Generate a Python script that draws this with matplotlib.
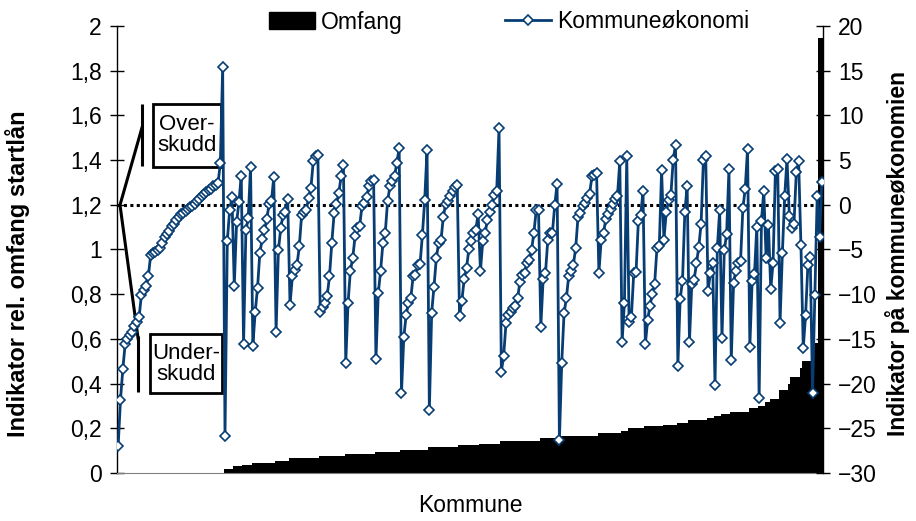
import numpy as np
import matplotlib
matplotlib.use("Agg")
import matplotlib.pyplot as plt
from matplotlib.patches import Patch, Rectangle
from matplotlib.lines import Line2D
from matplotlib.ticker import MultipleLocator, FuncFormatter

plt.rcParams['font.family'] = ['Liberation Sans', 'DejaVu Sans']

# Kommuneøkonomi per kommune, sorted by omfang group and then ascending within each group
kommuneokonomi = [
    -27.0, -21.8, -18.4, -15.6, -15.0, -14.6, -14.2, -13.6, -13.1, -12.6, -10.1, -9.5, -9.1, -8.0,
    -5.6, -5.35, -5.3, -5.1, -4.8, -4.3, -3.6, -3.3, -2.9, -2.35, -2.1, -1.7, -1.35, -1.05, -0.88,
    -0.68, -0.48, -0.26, -0.1, 0.05, 0.45, 0.7, 0.95, 1.2, 1.4, 1.6, 1.8, 2.05, 2.2, 2.4, 4.67, 15.42,
    -25.87, -4.03, -0.63, 0.86,
    -9.03, -1.94, 0.30, 3.25,
    -15.57, -2.87, -1.49, 4.22,
    -15.75, -12.02, -9.33, -5.41, -3.84, -2.87, -1.60, 0.11, 0.37, 3.10,
    -14.18, -5.11, -2.61, -1.12, -0.75, 0.64,
    -11.20, -8.02, -7.28, -6.72, -4.66, -1.12, -0.75, -0.56, 0.75, 1.87, 4.85, 5.41, 5.60,
    -11.94, -11.38, -11.01, -10.15, -8.02, -4.22, -0.93, 0.11, 1.31, 3.17, 4.48,
    -17.66, -10.94, -7.35, -5.97, -3.54, -2.61, -2.35, -0.11, 0.19, 0.86, 2.05, 2.61, 2.73,
    -17.28, -9.89, -7.39, -4.29, -3.17, 0.37, 2.05, 2.61, 3.25, 4.67, 6.35,
    -21.01, -14.82, -12.32, -11.01, -10.45, -8.02, -7.84, -6.72, -6.61, -3.36, 0.56, 6.16,
    -22.96, -12.06, -9.14, -5.97, -4.22, -3.99, -1.38, 0.11, 0.37, 0.93, 1.49, 1.98, 2.24,
    -12.39, -10.71, -8.32, -7.09, -4.96, -4.10, -3.10, -2.80, -1.01,
    -7.35, -4.10, -3.17, -1.68, -0.75, 0.0, 1.12, 1.57, 8.59,
    -18.66, -16.87, -13.25, -12.32, -11.94, -11.57, -11.31, -10.45, -8.58, -7.84, -7.65, -6.53,
    -6.16, -5.04, -3.17, -0.63, -0.56,
    -13.62, -8.32, -7.65, -3.92, -3.17, -3.10, 0.0, 2.35,
    -26.32, -17.66, -12.13, -10.45, -7.95, -7.35, -6.72, -4.85, -1.38, -0.93, -0.19, 0.19, 0.75,
    1.23, 3.17, 3.36, 3.55,
    -7.58, -3.92, -3.10, -1.60, -1.0, -0.5, 0.11, 0.6, 1.01, 4.85,
    -15.30, -10.94, 5.41,
    -13.06, -12.50, -7.65, -7.54, -1.79, -1.12, 1.49,
    -15.60, -12.88, -11.27, -9.97, -8.85, -4.85, -4.66, 3.85,
    -3.92, -0.86, 0.49, 1.12, 5.04, 6.72,
    -18.03, -10.56, -8.47, -0.86, 2.13,
    -15.30, -8.85, -8.40, -6.53, -4.74, -2.13, 4.97, 5.41,
    -9.63, -7.65, -6.46,
    -20.16, -4.85, -0.63,
    -14.93, -5.11, -3.25, 4.0,
    -17.36, -8.70, -7.35, -6.53, -6.27, -0.37, 1.76, 6.24,
    -15.86, -8.47, -7.73, -2.43,
    -21.65, -1.79, 1.57,
    -5.97, -2.24,
    -9.45, -6.46, 3.73, 4.03,
    -13.18, -5.41, 0.93, 5.15,
    -1.23,
    -2.61, -2.13, 3.62, 4.85,
    -4.52,
    -16.05, -12.32, -6.72, -5.79,
    -21.0, -10.08, 0.93,
    -3.55, 2.53,
]

# Number of kommuner and rel. omfang startlån in each group
kommuner_per_gruppe = [46, 4, 4, 4, 10, 6, 13, 11, 13, 11, 12, 13, 9, 9, 17, 8, 17, 10, 3, 7,
                       8, 6, 5, 8, 3, 3, 4, 8, 4, 3, 2, 4, 4, 1, 4, 1, 4, 3, 2]
omfang_niva = [0.0, 0.02, 0.03, 0.035, 0.045, 0.055, 0.065, 0.075, 0.085, 0.095, 0.105, 0.115,
               0.125, 0.13, 0.145, 0.155, 0.165, 0.18, 0.19, 0.20, 0.21, 0.217, 0.224, 0.236,
               0.245, 0.254, 0.265, 0.275, 0.29, 0.30, 0.318, 0.33, 0.37, 0.40, 0.43, 0.47,
               0.50, 0.58, 1.946]

omfang = np.repeat(omfang_niva, kommuner_per_gruppe)
okonomi = np.array(kommuneokonomi)
assert len(omfang) == len(okonomi)
n = len(okonomi)
kommune = np.arange(n)

BLUE = '#073d73'

fig = plt.figure(figsize=(9.16, 5.21), dpi=100)
ax = fig.add_axes([117 / 916, 1 - 473 / 521, 706 / 916, 447 / 521])
ax2 = ax.twinx()

# Omfang as contiguous black bars
ax.bar(kommune, omfang, width=1.0, color='black', linewidth=0, zorder=2)
ax.set_xlim(-0.5, n - 0.5)
ax.set_ylim(0, 2)
ax.yaxis.set_major_locator(MultipleLocator(0.2))


def komma(v, pos):
    if abs(v - round(v)) < 1e-9:
        return str(int(round(v)))
    return f"{v:.1f}".replace('.', ',')


ax.yaxis.set_major_formatter(FuncFormatter(komma))
ax.set_xticks([])
for side in ('top', 'right'):
    ax.spines[side].set_visible(False)
ax.spines['bottom'].set_color('#808080')
ax.spines['left'].set_linewidth(1.0)
ax.tick_params(axis='y', direction='inout', length=10, width=1.0, labelsize=16.5, pad=6)

# Kommuneøkonomi on the secondary axis
ax2.set_ylim(-30, 20)
ax2.yaxis.set_major_locator(MultipleLocator(5))
ax2.axhline(0, color='black', lw=2.2, linestyle=(0, (1, 1.1)), zorder=1)
ax2.plot(kommune, okonomi, color=BLUE, lw=2.0, marker='D', ms=4.8, mfc='white',
         mec=BLUE, mew=1.2, zorder=3)
for side in ('top', 'left', 'bottom'):
    ax2.spines[side].set_visible(False)
ax2.spines['right'].set_linewidth(1.0)
ax2.tick_params(axis='y', direction='inout', length=10, width=1.0, labelsize=16.5, pad=6)

# Axis titles
fig.text(18 / 916, 1 - 274 / 521, 'Indikator rel. omfang startlån', rotation=90,
         ha='center', va='center', fontsize=17, fontweight='bold')
fig.text(897 / 916, 1 - 254 / 521, 'Indikator på kommuneøkonomien', rotation=90,
         ha='center', va='center', fontsize=16.5, fontweight='bold')
fig.text(470 / 916, 1 - 505 / 521, 'Kommune', ha='center', va='center', fontsize=16.5)

# Legend above the plot
handles = [Patch(facecolor='black', edgecolor='black'),
           Line2D([], [], color=BLUE, lw=2.0, marker='D', ms=4.8, mfc='white', mec=BLUE, mew=1.2)]
fig.legend(handles, ['Omfang', 'Kommuneøkonomi'], loc='center', ncol=2,
           bbox_to_anchor=(509 / 916, 1 - 22 / 521), frameon=False, fontsize=16.5,
           handlelength=2.0, handleheight=0.8, handletextpad=0.25, columnspacing=4.5)

# Overskudd / underskudd callouts
def fx(px):
    return (px - 117) / 706


def fy(py):
    return (473 - py) / 447


callout = dict(color='black', lw=2.2, transform=ax.transAxes, clip_on=False, zorder=5,
               solid_capstyle='butt')
ax.plot([fx(120), fx(142.3)], [fy(205), fy(126.5)], **callout)
ax.plot([fx(142.3), fx(142.3)], [fy(104), fy(166)], **callout)
ax.plot([fx(120), fx(138.3)], [fy(205), fy(340)], **callout)
ax.plot([fx(138.3), fx(138.3)], [fy(336), fy(392)], **callout)

for x0, y0, x1, y1, txt in [(153.3, 104, 220.7, 166.7, 'Over-\nskudd'),
                            (150.0, 334, 221.7, 393.3, 'Under-\nskudd')]:
    ax.add_patch(Rectangle((fx(x0), fy(y1)), fx(x1) - fx(x0), fy(y0) - fy(y1),
                           transform=ax.transAxes, facecolor='white', edgecolor='black',
                           lw=2.0, zorder=6, clip_on=False))
    ax.text((fx(x0) + fx(x1)) / 2, (fy(y0) + fy(y1)) / 2, txt, transform=ax.transAxes,
            ha='center', va='center', fontsize=16, linespacing=1.0, zorder=7)

fig.savefig('out.png', dpi=100)
